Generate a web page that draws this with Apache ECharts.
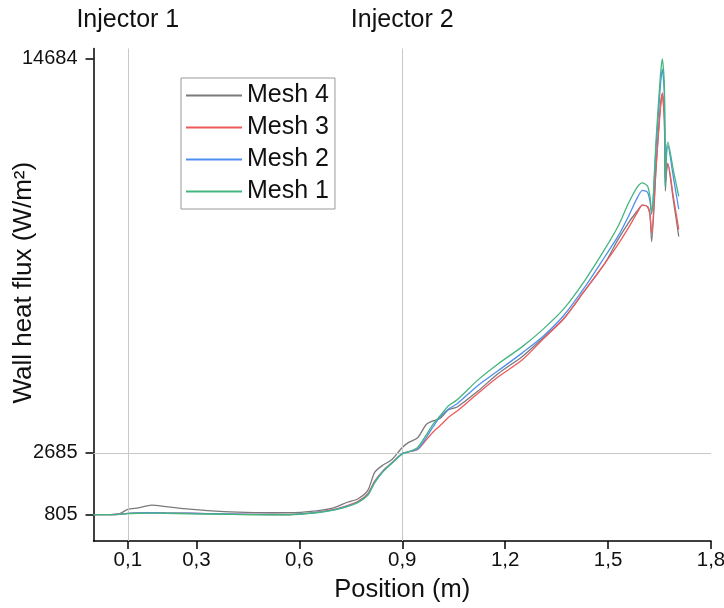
<!DOCTYPE html>
<html>
<head>
<meta charset="utf-8">
<script src="https://cdn.jsdelivr.net/npm/echarts@6/dist/echarts.min.js"></script>
<style>
  html, body { margin: 0; padding: 0; background: #fff; }
  #container { width: 724px; height: 608px; }
</style>
</head>
<body>
<div id="container"></div>
<script>
// positions along the wall (m)
const positions = [0, 0.05, 0.075, 0.1, 0.13, 0.17, 0.21, 0.28, 0.38, 0.47, 0.57, 0.65, 0.7, 0.74, 0.77, 0.8, 0.82, 0.845, 0.87, 0.9,
  0.92, 0.945, 0.97, 0.99, 1.01, 1.035, 1.06, 1.12, 1.18, 1.25, 1.31, 1.37, 1.43, 1.49, 1.53, 1.56, 1.585, 1.6, 1.615, 1.622,
  1.627, 1.64, 1.652, 1.658, 1.664, 1.667, 1.67, 1.674, 1.69, 1.706];

const mesh4 = [805, 805, 830, 960, 1010, 1095, 1050, 970, 895, 865, 860, 920, 1010, 1180, 1280, 1550, 2100, 2320, 2480, 2850,
  3010, 3145, 3550, 3660, 3730, 4000, 4080, 4560, 5100, 5620, 6178, 6760, 7600, 8450, 9200, 9700, 10050, 10230, 10180, 9950,
  9120, 11400, 13200, 13600, 12800, 10660, 11200, 11480, 10400, 9275];
const mesh3 = [805, 805, 815, 840, 855, 860, 855, 845, 825, 810, 805, 870, 960, 1080, 1200, 1450, 1830, 2150, 2380, 2660,
  2720, 2790, 3080, 3320, 3510, 3770, 3960, 4490, 5000, 5520, 6142, 6760, 7600, 8450, 9050, 9550, 10000, 10230, 10180, 9950,
  9380, 11400, 13100, 13646, 12900, 10900, 11400, 11500, 10500, 9494];
const mesh2 = [805, 805, 815, 840, 855, 860, 855, 845, 825, 810, 805, 870, 950, 1060, 1180, 1420, 1800, 2140, 2380, 2660,
  2720, 2800, 3150, 3480, 3780, 4020, 4180, 4730, 5190, 5730, 6227, 6860, 7700, 8650, 9300, 9900, 10450, 10680, 10620, 10350,
  9950, 12000, 13800, 14371, 13600, 10800, 11700, 12050, 11100, 10104];
const mesh1 = [805, 805, 812, 835, 845, 850, 845, 830, 815, 800, 800, 860, 940, 1050, 1170, 1400, 1780, 2120, 2370, 2650,
  2720, 2850, 3230, 3560, 3810, 4120, 4300, 4900, 5400, 5920, 6446, 7060, 7900, 8880, 9600, 10300, 10780, 10910, 10810, 10500,
  9990, 12240, 14100, 14684, 13900, 10800, 11800, 12150, 11300, 10494];

const xTicks = [0.1, 0.3, 0.6, 0.9, 1.2, 1.5, 1.8];
const yTicks = [805, 2685, 14684];
const injectors = [
  { name: 'Injector 1', pos: 0.1 },
  { name: 'Injector 2', pos: 0.9 }
];
const refLevel = 2685;

const meshes = [
  { name: 'Mesh 4', values: mesh4, color: '#7a7a7a' },
  { name: 'Mesh 3', values: mesh3, color: '#f05a5a' },
  { name: 'Mesh 2', values: mesh2, color: '#4f8fef' },
  { name: 'Mesh 1', values: mesh1, color: '#45b57e' }
];

const font = 'Liberation Sans, Arial, sans-serif';
const comma = v => String(v).replace('.', ',');

let dom = document.getElementById('container');
let myChart = echarts.init(dom, null, { renderer: 'canvas' });

let series = meshes.map(function (m, i) {
  return {
    name: m.name,
    type: 'line',
    data: positions.map((p, k) => [p, m.values[k]]),
    showSymbol: false,
    symbol: 'none',
    smooth: 0.25,
    color: m.color,
    lineStyle: { width: 1.3, color: m.color },
    z: 3 + i
  };
});

// reference lines (injectors + level) drawn behind the curves
series.push({
  name: 'ref',
  type: 'line',
  data: [],
  silent: true,
  z: 1,
  markLine: {
    silent: true,
    symbol: 'none',
    lineStyle: { color: '#c8c8c8', width: 1, type: 'solid' },
    label: {
      show: true,
      position: 'end',
      distance: 16,
      color: '#111',
      fontSize: 25,
      fontFamily: font,
      formatter: p => p.name
    },
    data: injectors.map(d => ({ name: d.name, xAxis: d.pos }))
      .concat([{ name: '', yAxis: refLevel, label: { show: false } }])
  }
});

let option = {
  animation: false,
  backgroundColor: '#fff',
  textStyle: { fontFamily: font },
  grid: { left: 93.5, right: 13, top: 48.5, bottom: 67, outerBoundsMode: 'none', containLabel: false },
  legend: {
    left: 181,
    top: 78,
    orient: 'vertical',
    data: meshes.map(m => m.name),
    icon: 'rect',
    itemWidth: 56,
    itemHeight: 2,
    itemGap: 7,
    padding: [5, 6, 5, 5],
    borderColor: '#999',
    borderWidth: 1,
    textStyle: { fontSize: 25, color: '#111', fontFamily: font }
  },
  xAxis: {
    type: 'value',
    min: 0,
    max: 1.8,
    name: 'Position (m)',
    nameLocation: 'middle',
    nameGap: 36,
    nameMoveOverlap: false,
    nameTextStyle: { fontSize: 25.5, color: '#111', fontFamily: font },
    axisLine: { show: true, lineStyle: { color: '#000', width: 1.5 } },
    axisTick: { show: true, length: 8, customValues: xTicks, lineStyle: { color: '#000', width: 1.5 } },
    axisLabel: { customValues: xTicks, formatter: comma, fontSize: 20.5, color: '#111', margin: 9, fontFamily: font },
    splitLine: { show: false }
  },
  yAxis: {
    type: 'value',
    min: 0,
    max: 15000,
    name: 'Wall heat flux (W/m²)',
    nameLocation: 'middle',
    nameGap: 57,
    nameMoveOverlap: false,
    nameTextStyle: { fontSize: 26, color: '#111', fontFamily: font, padding: [0, 0, 0, 24] },
    axisLine: { show: true, lineStyle: { color: '#000', width: 1.5 } },
    axisTick: { show: true, length: 8, customValues: yTicks, lineStyle: { color: '#000', width: 1.5 } },
    axisLabel: { customValues: yTicks, formatter: v => String(v), fontSize: 20, color: '#111', margin: 16, fontFamily: font },
    splitLine: { show: false }
  },
  series: series
};
myChart.setOption(option);
</script>
</body>
</html>
